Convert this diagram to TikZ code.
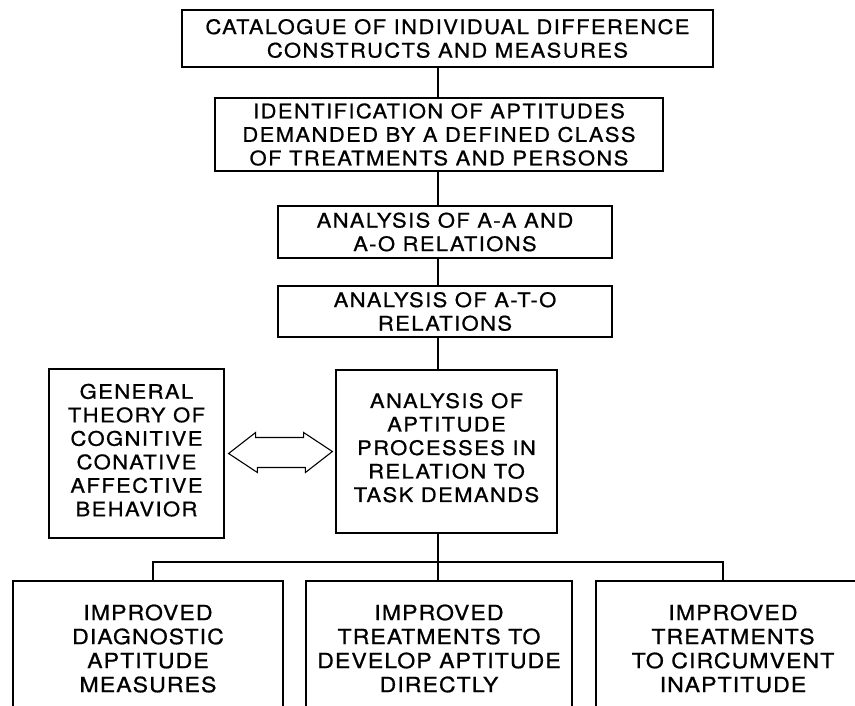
\documentclass[tikz,border=0pt]{standalone}
\usepackage{fontspec}
\usetikzlibrary{calc}
\newfontfamily\hvA[LetterSpace=7,FakeStretch=1.1,FakeBold=0.8]{TeX Gyre Heros}
\newfontfamily\hvB[LetterSpace=5,FakeStretch=1.1,FakeBold=0.8]{TeX Gyre Heros}
\begin{document}
\begin{tikzpicture}[x=1pt,y=-1pt,
  box/.style={draw, line width=1.2pt, inner sep=0pt, align=center,
    font=\hvA\fontsize{20}{23.5}\selectfont},
  bbox/.style={draw, line width=1.2pt, inner sep=0pt, align=center,
    font=\hvB\fontsize{21}{24}\selectfont, minimum height=135},
  conn/.style={line width=1.2pt}]
\useasboundingbox (0,0) rectangle (855,705);
\clip (0,0) rectangle (855,705);
\fill[white] (0,0) rectangle (855,705);

\coordinate (sp) at (438,0);
\coordinate (bus) at (438,562);
\coordinate (dA) at (153,562);
\coordinate (dC) at (723,562);

\node[box, minimum width=531, minimum height=57] (b1) at (447.5,38.5)
  {CATALOGUE OF INDIVIDUAL DIFFERENCE\\CONSTRUCTS AND MEASURES};
\node[box, minimum width=448, minimum height=73] (b2) at (439,134.5)
  {IDENTIFICATION OF APTITUDES\\DEMANDED BY A DEFINED CLASS\\OF TREATMENTS AND PERSONS};
\node[box, minimum width=334, minimum height=52] (b3) at (445,232)
  {ANALYSIS OF A-A AND\\A-O RELATIONS};
\node[box, minimum width=334, minimum height=51] (b4) at (445,311.5)
  {ANALYSIS OF A-T-O\\RELATIONS};
\node[box, minimum width=221, minimum height=163] (b5) at (446.5,451.5)
  {ANALYSIS OF\\APTITUDE\\PROCESSES IN\\RELATION TO\\TASK DEMANDS\rule[-8pt]{0pt}{0pt}};
\node[box, minimum width=175, minimum height=169] (g) at (136.5,453.5)
  {GENERAL\\THEORY OF\\COGNITIVE\\CONATIVE\\AFFECTIVE\\BEHAVIOR\rule[-7pt]{0pt}{0pt}};

\node[bbox, minimum width=270] (ba) at (148,648.5)
  {IMPROVED\\DIAGNOSTIC\\APTITUDE\\MEASURES};
\node[bbox, minimum width=266] (bb) at (439,648.5)
  {IMPROVED\\TREATMENTS TO\\DEVELOP APTITUDE\\DIRECTLY};
\node[bbox, minimum width=274] (bc) at (733,648.5)
  {IMPROVED\\TREATMENTS\\TO CIRCUMVENT\\INAPTITUDE};

\draw[conn] (b1.south -| sp) -- (b2.north -| sp);
\draw[conn] (b2.south -| sp) -- (b3.north -| sp);
\draw[conn] (b3.south -| sp) -- (b4.north -| sp);
\draw[conn] (b4.south -| sp) -- (b5.north -| sp);
\draw[conn] (b5.south -| sp) -- (bus);
\draw[conn] (ba.north -| dA) -- (dA) -- (dC) -- (bc.north -| dC);
\draw[conn] (bus) -- (bb.north -| sp);

% double-headed hollow arrow between g and b5
\draw[line width=1.1pt, line join=miter]
  ($(g.east)+(4,0)$) -- ++(27,-21) -- ++(0,5) -- ++(48,0) -- ++(0,-5)
  -- ($(b5.west)+(-3,0)$) -- ++(-27,21) -- ++(0,-5) -- ++(-48,0) -- ++(0,5) -- cycle;
\end{tikzpicture}
\end{document}
